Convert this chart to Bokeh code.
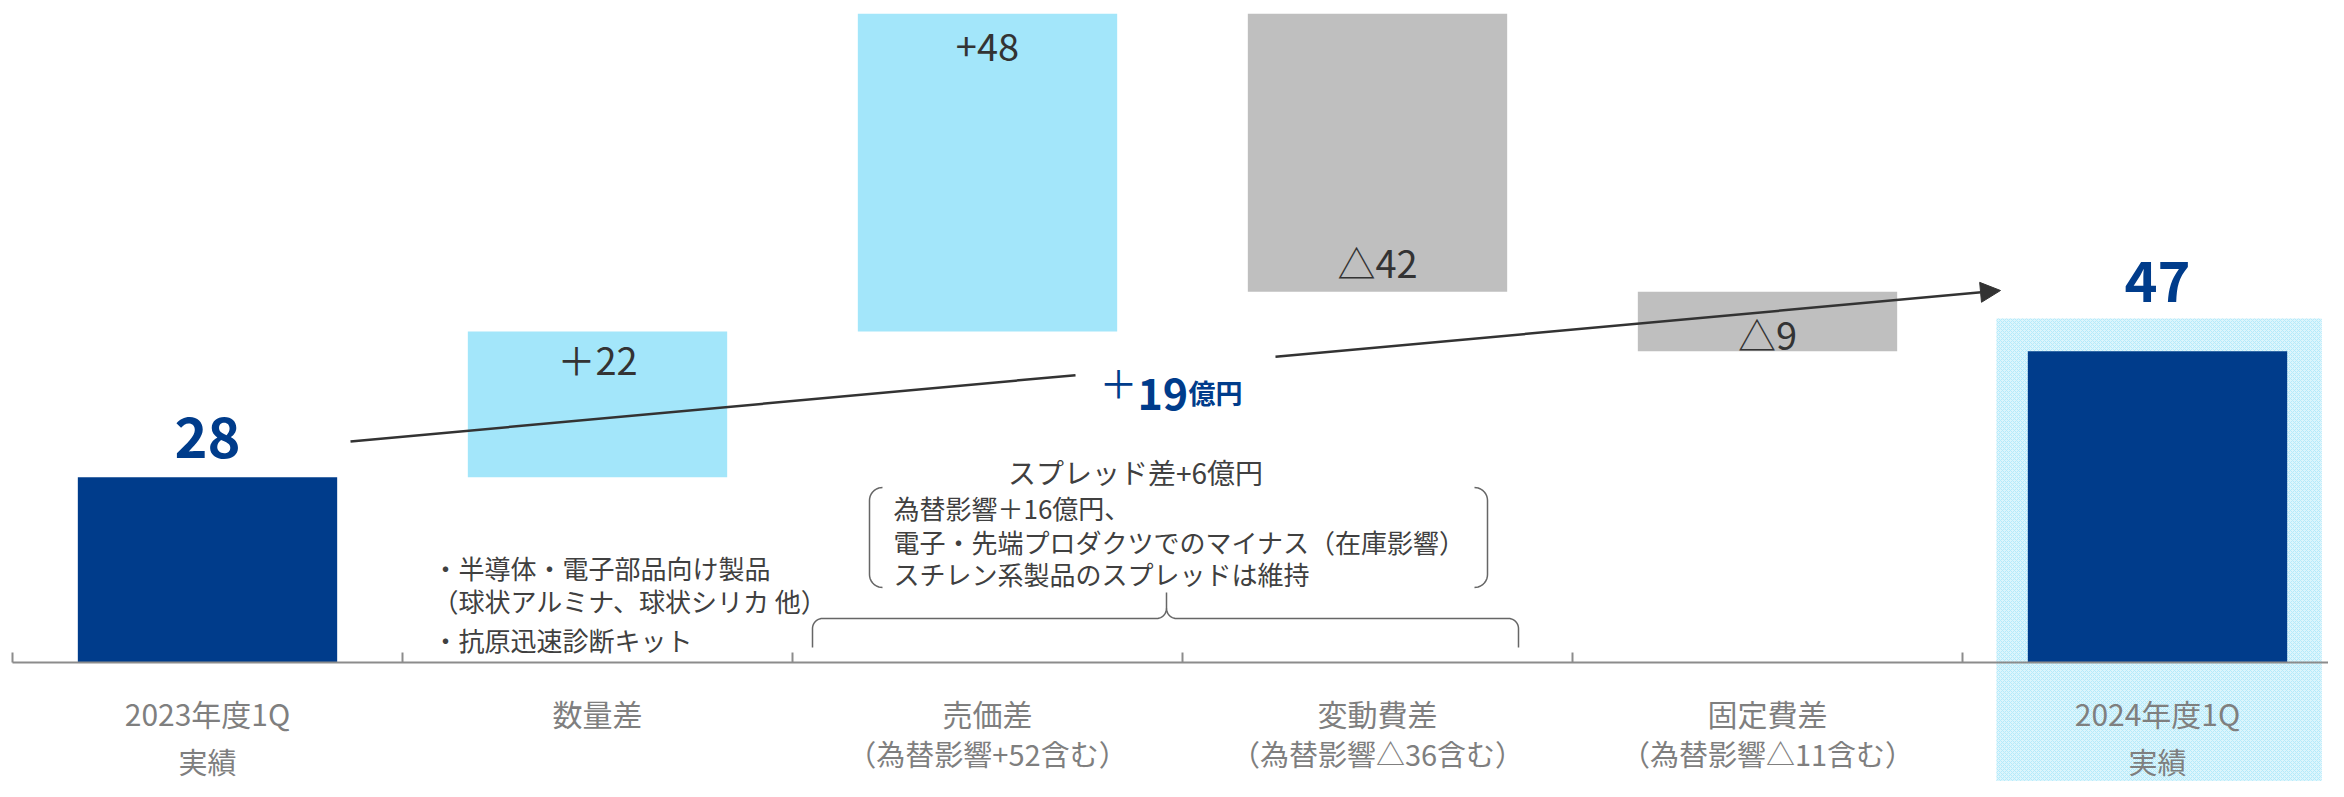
import numpy as np
from bokeh.plotting import figure
from bokeh.models import Range1d, Arrow, NormalHead
from bokeh.core.properties import value
from bokeh.embed import file_html
from bokeh.resources import INLINE

# ---------------- data ----------------
cat_line1 = ["2023年度1Q", "数量差", "売価差", "変動費差", "固定費差", "2024年度1Q"]
cat_line2 = ["実績", "", "（為替影響+52含む）", "（為替影響△36含む）", "（為替影響△11含む）", "実績"]
deltas = [28, 22, 48, -42, -9, 47]
kinds = ["total", "up", "up", "down", "down", "total"]
value_labels = ["28", "＋22", "+48", "△42", "△9", "47"]

total_change_sign = "＋"
total_change_num = "19"
total_change_unit = "億円"
spread_title = "スプレッド差+6億円"
spread_lines = ["為替影響＋16億円、",
                "電子・先端プロダクツでのマイナス（在庫影響）",
                "スチレン系製品のスプレッドは維持"]
volume_notes = ["・半導体・電子部品向け製品",
                "（球状アルミナ、球状シリカ 他）",
                "・抗原迅速診断キット"]

# ---------------- layout helpers (reference pixel -> data units) ----------------
X0, XS = 12.0, 390.0      # x pixel of category 0 boundary, pixels per category
Y0, YS = 662.0, 6.62      # y pixel of zero line, pixels per 億円
def px(x):
    return (x - X0) / XS
def py(y):
    return (Y0 - y) / YS

W, H = 2328, 781
FONT = value("Noto Sans CJK JP")
NAVY = "#003C8B"
COLORS = {"total": NAVY, "up": "#A3E6FA", "down": "#BFBFBF"}

# ---------------- waterfall geometry from data ----------------
bottoms, tops = [], []
running = 0
for d, k in zip(deltas, kinds):
    if k == "total":
        b, t = 0, d
        running = d
    elif k == "up":
        b, t = running, running + d
        running = t
    else:
        b, t = running + d, running
        running = b
    bottoms.append(b)
    tops.append(t)
centers = [i + 0.5 for i in range(len(deltas))]
BAR_W = 0.665

p = figure(width=W, height=H, x_range=Range1d(px(0), px(W)),
           y_range=Range1d(py(H), py(0)),
           output_backend="svg", toolbar_location=None, min_border=0,
           x_axis_type=None, y_axis_type=None)
p.grid.visible = False
p.outline_line_color = None
p.background_fill_color = "white"

# highlight behind the final result
p.quad(left=[centers[-1] - 0.413], right=[centers[-1] + 0.421],
       bottom=[py(800)], top=[py(318)],
       fill_color="#dcf5fc", line_color=None,
       hatch_pattern="x", hatch_color="#b3eafb", hatch_scale=4, hatch_weight=1)

# bars
p.quad(left=[c - BAR_W / 2 for c in centers], right=[c + BAR_W / 2 for c in centers],
       bottom=bottoms, top=tops, fill_color=[COLORS[k] for k in kinds], line_color=None)

# axis line and category ticks
p.segment(x0=[px(12)], y0=[0], x1=[px(2400)], y1=[0], line_color="#8C8C8C", line_width=2)
ticks = list(range(len(deltas)))
p.segment(x0=ticks, y0=[0] * len(ticks), x1=ticks, y1=[10 / YS] * len(ticks),
          line_color="#8C8C8C", line_width=2)

# value labels
LABEL_DY = [-40, 27, 33, -30, -18, -70]
for i, (lab, k) in enumerate(zip(value_labels, kinds)):
    anchor = bottoms[i] if k == "down" else tops[i]
    if k == "total":
        p.text(x=[centers[i]], y=[anchor], text=[lab], text_align="center",
               text_baseline="middle", y_offset=LABEL_DY[i], text_font=FONT,
               text_font_size="56px", text_font_style="bold", text_color=NAVY)
    else:
        p.text(x=[centers[i]], y=[anchor], text=[lab], text_align="center",
               text_baseline="middle", y_offset=LABEL_DY[i], text_font=FONT,
               text_font_size="38px", text_color="#333333")

# category labels (two lines)
p.text(x=centers, y=[py(712)] * len(centers), text=cat_line1, text_align="center",
       text_baseline="middle", text_font=FONT, text_font_size="30px", text_color="#7F7F7F")
p.text(x=centers, y=[py(760) if k == "total" else py(752) for k in kinds], text=cat_line2,
       text_align="center", text_baseline="middle", text_font=FONT,
       text_font_size="29px", text_color="#7F7F7F")

# arrow from first to final result, interrupted by the label
xs0, ys0 = px(350), py(441)
xs1, ys1 = px(2000), py(290)
g0, g1 = 0.4394, 0.5606
p.segment(x0=[xs0], y0=[ys0], x1=[xs0 + (xs1 - xs0) * g0], y1=[ys0 + (ys1 - ys0) * g0],
          line_color="#333333", line_width=2.5)
p.add_layout(Arrow(x_start=xs0 + (xs1 - xs0) * g1, y_start=ys0 + (ys1 - ys0) * g1,
                   x_end=xs1, y_end=ys1, line_color="#333333", line_width=2.5,
                   end=NormalHead(size=20, fill_color="#333333", line_color="#333333")))

# total change label
p.text(x=[px(1118)], y=[py(381)], text=[total_change_sign], text_align="center",
       text_baseline="middle", text_font=FONT, text_font_size="38px", text_color=NAVY)
p.text(x=[px(1137)], y=[py(393)], text=[total_change_num], text_align="left",
       text_baseline="alphabetic", text_font=FONT, text_font_size="43px",
       text_font_style="bold", text_color=NAVY)
p.text(x=[px(1188)], y=[py(392)], text=[total_change_unit], text_align="left",
       text_baseline="alphabetic", text_font=FONT, text_font_size="27px",
       text_font_style="bold", text_color=NAVY)

# volume notes
p.text(x=[px(432)] * 3, y=[py(567), py(600), py(639)], text=volume_notes,
       text_align="left", text_baseline="middle", text_font=FONT,
       text_font_size="26px", text_color="#404040")

# spread annotation
p.text(x=[px(1135)], y=[py(471)], text=[spread_title], text_align="center",
       text_baseline="middle", text_font=FONT, text_font_size="28px", text_color="#404040")
p.text(x=[px(893)] * 3, y=[py(507), py(541), py(573)], text=spread_lines,
       text_align="left", text_baseline="middle", text_font=FONT,
       text_font_size="26px", text_color="#404040")

def arc(cx, cy, r, a0, a1, n=12):
    t = np.linspace(a0, a1, n)
    return list(cx + r * np.cos(t)), list(cy + r * np.sin(t))

def draw_px_path(xs, ys, color="#666666", width=1.5):
    p.line(x=[px(v) for v in xs], y=[py(v) for v in ys], line_color=color, line_width=width)

# rounded brackets around spread details (screen coords, y down)
r = 13
ax1, ay1 = arc(882, 500, r, -np.pi / 2, -np.pi)
ax2, ay2 = arc(882, 574, r, np.pi, np.pi / 2)
draw_px_path(ax1 + ax2, ay1 + ay2)
bx1, by1 = arc(1474, 500, r, -np.pi / 2, 0)
bx2, by2 = arc(1474, 574, r, 0, np.pi / 2)
draw_px_path(bx1 + bx2, by1 + by2)

# curly brace over 売価差 / 変動費差
rb = 10
c1x, c1y = arc(822, 628, rb, np.pi, 3 * np.pi / 2)
c2x, c2y = arc(1156, 608, rb, np.pi / 2, 0)
c3x, c3y = arc(1176, 608, rb, np.pi, np.pi / 2)
c4x, c4y = arc(1508, 628, rb, -np.pi / 2, 0)
draw_px_path([812] + c1x + c2x + [1166], [647] + c1y + c2y + [592])
draw_px_path([1166] + c3x + c4x + [1518], [608] + c3y + c4y + [647])

open("out.html", "w").write(file_html(p, INLINE))
